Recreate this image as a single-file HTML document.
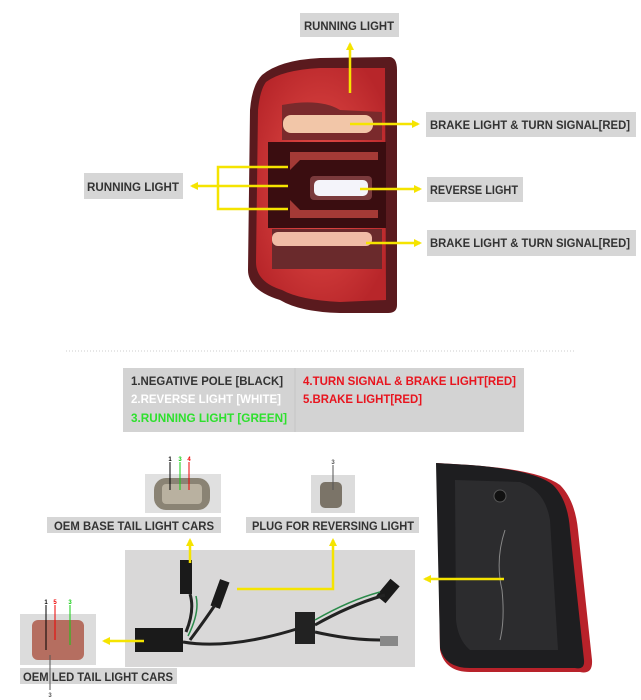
<!DOCTYPE html>
<html><head><meta charset="utf-8"><style>
html,body{margin:0;padding:0;background:#fff;width:641px;height:700px;overflow:hidden}
svg{display:block}
text{font-family:"Liberation Sans",sans-serif;font-weight:bold}
</style></head><body>
<svg width="641" height="700" viewBox="0 0 641 700" xmlns="http://www.w3.org/2000/svg">
<defs>
<marker id="ah" markerWidth="8" markerHeight="8" refX="6" refY="4" orient="auto" markerUnits="userSpaceOnUse"><path d="M0,0 L8,4 L0,8 Z" fill="#f5e400"/></marker>
<radialGradient id="glow" cx="50%" cy="50%" r="60%"><stop offset="0" stop-color="#e8504a"/><stop offset="1" stop-color="#b8262a"/></radialGradient>
</defs>
<!-- top tail light -->
<path d="M262,75 Q280,60 320,58 L390,57 Q397,58 397,70 L397,305 Q397,313 388,313 L340,313 Q300,312 280,300 Q248,290 248,270 L250,110 Q252,85 262,75 Z" fill="#5a1a1e"/>
<path d="M266,82 Q282,70 320,68 L385,68 L386,300 L340,302 Q300,300 282,290 Q256,282 256,262 L258,110 Q260,90 266,82 Z" fill="url(#glow)"/>
<path d="M282,105 Q320,98 340,110 L382,112 L382,140 L282,140 Z" fill="#7a2a2c"/>
<rect x="283" y="115" width="90" height="18" rx="8" fill="#f2c6a8"/>
<rect x="268" y="142" width="118" height="86" fill="#3a0d10"/>
<path d="M290,152 L378,152 L378,160 L300,160 L290,170 Z" fill="#a43a36"/>
<path d="M290,218 L378,218 L378,210 L300,210 L290,200 Z" fill="#a43a36"/>
<rect x="310" y="176" width="62" height="24" rx="4" fill="#7a3a3c"/>
<rect x="314" y="180" width="54" height="16" rx="5" fill="#f4f4fa"/>
<rect x="272" y="229" width="110" height="40" fill="#6a2a2c"/>
<rect x="272" y="232" width="100" height="14" rx="6" fill="#f0bca6"/>
<!-- top label boxes -->
<rect x="300" y="13" width="99" height="24" fill="#d6d6d6"/>
<text x="349" y="30" font-size="12" fill="#333" text-anchor="middle" textLength="90" lengthAdjust="spacingAndGlyphs">RUNNING LIGHT</text>
<rect x="426" y="112" width="210" height="25" fill="#d6d6d6"/>
<text x="430" y="129" font-size="12" fill="#333" textLength="200" lengthAdjust="spacingAndGlyphs">BRAKE LIGHT &amp; TURN SIGNAL[RED]</text>
<rect x="427" y="177" width="96" height="25" fill="#d6d6d6"/>
<text x="430" y="194" font-size="12" fill="#333" textLength="88" lengthAdjust="spacingAndGlyphs">REVERSE LIGHT</text>
<rect x="427" y="230" width="209" height="26" fill="#d6d6d6"/>
<text x="430" y="247" font-size="12" fill="#333" textLength="200" lengthAdjust="spacingAndGlyphs">BRAKE LIGHT &amp; TURN SIGNAL[RED]</text>
<rect x="84" y="173" width="99" height="26" fill="#d6d6d6"/>
<text x="87" y="191" font-size="12" fill="#333" textLength="92" lengthAdjust="spacingAndGlyphs">RUNNING LIGHT</text>
<g stroke="#f5e400" stroke-width="2.5" fill="none">
<line x1="350" y1="93" x2="350" y2="44" marker-end="url(#ah)"/>
<line x1="350" y1="124" x2="418" y2="124" marker-end="url(#ah)"/>
<line x1="360" y1="189" x2="420" y2="189" marker-end="url(#ah)"/>
<line x1="366" y1="243" x2="420" y2="243" marker-end="url(#ah)"/>
<polyline points="288,167 218,167 218,209 288,209"/>
<line x1="288" y1="186" x2="192" y2="186" marker-end="url(#ah)"/>
</g>
<line x1="66" y1="351" x2="576" y2="351" stroke="#ccc" stroke-width="1" stroke-dasharray="1,2"/>
<!-- legend -->
<rect x="123" y="368" width="401" height="64" fill="#d3d3d3"/>
<line x1="295" y1="368" x2="295" y2="432" stroke="#c6c6c6"/>
<text x="131" y="385" font-size="12" fill="#333" textLength="152" lengthAdjust="spacingAndGlyphs">1.NEGATIVE POLE [BLACK]</text>
<text x="131" y="403" font-size="12" fill="#fff" textLength="150" lengthAdjust="spacingAndGlyphs">2.REVERSE LIGHT [WHITE]</text>
<text x="131" y="422" font-size="12" fill="#2ee02e" textLength="156" lengthAdjust="spacingAndGlyphs">3.RUNNING LIGHT [GREEN]</text>
<text x="303" y="385" font-size="12" fill="#e8141e" textLength="213" lengthAdjust="spacingAndGlyphs">4.TURN SIGNAL &amp; BRAKE LIGHT[RED]</text>
<text x="303" y="403" font-size="12" fill="#e8141e" textLength="119" lengthAdjust="spacingAndGlyphs">5.BRAKE LIGHT[RED]</text>
<!-- connector photos -->
<rect x="145" y="474" width="76" height="39" fill="#e0e0e0"/>
<rect x="154" y="478" width="56" height="32" rx="12" fill="#8a8374"/>
<rect x="162" y="484" width="40" height="20" rx="4" fill="#b9b1a0"/>
<line x1="170" y1="462" x2="170" y2="490" stroke="#000"/><line x1="180" y1="462" x2="180" y2="490" stroke="#1c1"/><line x1="189" y1="462" x2="189" y2="490" stroke="#e00"/>
<text x="170" y="461" font-size="6" fill="#000" text-anchor="middle">1</text><text x="180" y="461" font-size="6" fill="#1c1" text-anchor="middle">3</text><text x="189" y="461" font-size="6" fill="#e00" text-anchor="middle">4</text>
<rect x="47" y="517" width="174" height="16" fill="#d6d6d6"/>
<text x="54" y="530" font-size="12" fill="#333" textLength="160" lengthAdjust="spacingAndGlyphs">OEM BASE TAIL LIGHT CARS</text>
<rect x="311" y="475" width="44" height="38" fill="#dcdcdc"/>
<rect x="320" y="482" width="22" height="26" rx="5" fill="#7b7468"/>
<line x1="333" y1="465" x2="333" y2="490" stroke="#555"/>
<text x="333" y="464" font-size="6" fill="#555" text-anchor="middle">3</text>
<rect x="246" y="517" width="173" height="16" fill="#d6d6d6"/>
<text x="252" y="530" font-size="12" fill="#333" textLength="162" lengthAdjust="spacingAndGlyphs">PLUG FOR REVERSING LIGHT</text>
<!-- harness -->
<rect x="125" y="550" width="290" height="117" fill="#d9d8d8"/>
<rect x="180" y="560" width="12" height="34" fill="#1a1a1a"/>
<rect x="215" y="580" width="10" height="28" fill="#1a1a1a" transform="rotate(20 220 594)"/>
<rect x="135" y="628" width="48" height="24" fill="#1a1a1a"/>
<rect x="295" y="612" width="20" height="32" fill="#222"/>
<rect x="382" y="580" width="12" height="22" fill="#1a1a1a" transform="rotate(40 388 591)"/>
<rect x="380" y="636" width="18" height="10" fill="#888"/>
<path d="M183,642 Q230,650 300,628 M315,625 Q350,605 385,595 M315,632 Q350,640 380,640 M186,632 Q195,610 190,594 M190,640 Q205,620 215,605" stroke="#222" stroke-width="3" fill="none"/>
<path d="M188,636 Q200,612 196,596 M315,620 Q350,600 380,592" stroke="#2a8a4a" stroke-width="1.5" fill="none"/>
<!-- left small photo -->
<rect x="20" y="614" width="76" height="51" fill="#dcdcdc"/>
<rect x="32" y="620" width="52" height="40" rx="6" fill="#b56e60"/>
<line x1="46" y1="605" x2="46" y2="650" stroke="#000"/><line x1="55" y1="605" x2="55" y2="640" stroke="#e00"/><line x1="70" y1="605" x2="70" y2="645" stroke="#1c1"/>
<text x="46" y="604" font-size="6" fill="#000" text-anchor="middle">1</text><text x="55" y="604" font-size="6" fill="#e00" text-anchor="middle">5</text><text x="70" y="604" font-size="6" fill="#1c1" text-anchor="middle">3</text>
<rect x="20" y="668" width="157" height="16" fill="#d6d6d6"/>
<text x="23" y="681" font-size="12" fill="#333" textLength="150" lengthAdjust="spacingAndGlyphs">OEM LED TAIL LIGHT CARS</text>
<line x1="50" y1="655" x2="50" y2="690" stroke="#555"/>
<text x="50" y="697" font-size="6" fill="#555" text-anchor="middle">3</text>
<!-- right back of tail light -->
<path d="M437,463 L470,465 Q540,470 560,485 Q575,500 578,530 L592,660 Q593,675 580,672 L470,672 Q445,672 440,650 Z" fill="#b8222a"/>
<path d="M436,463 L470,465 Q535,470 553,485 Q568,500 570,530 L584,660 Q585,670 575,668 L470,668 Q445,668 440,648 Z" fill="#1e1e20"/>
<path d="M455,480 L520,482 Q545,490 550,520 L558,650 L470,650 Q458,640 456,620 Z" fill="#2c2c2e"/>
<circle cx="500" cy="496" r="6" fill="#111" stroke="#555"/>
<path d="M505,530 Q495,560 502,590 Q505,620 500,640" stroke="#888" fill="none"/>
<!-- yellow arrows bottom -->
<g stroke="#f5e400" stroke-width="2.5" fill="none">
<line x1="190" y1="563" x2="190" y2="540" marker-end="url(#ah)"/>
<polyline points="237,589 333,589 333,540" marker-end="url(#ah)"/>
<line x1="144" y1="641" x2="104" y2="641" marker-end="url(#ah)"/>
<line x1="504" y1="579" x2="425" y2="579" marker-end="url(#ah)"/>
</g>
</svg>
</body></html>
